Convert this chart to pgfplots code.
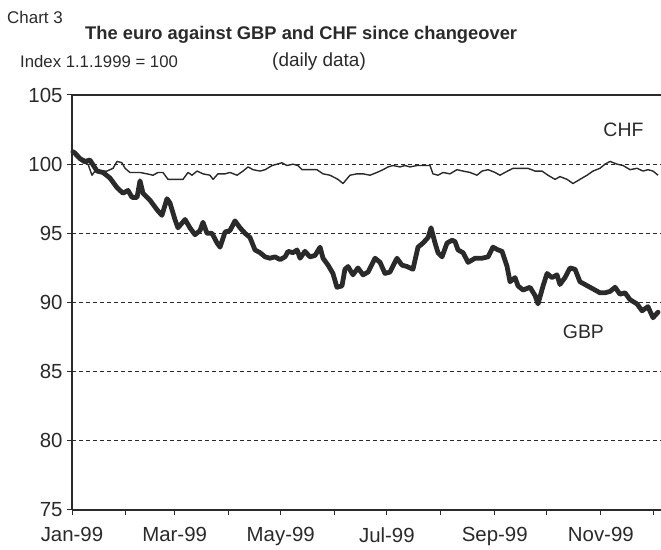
\documentclass[border=0pt]{standalone}
\usepackage{fontspec}
\setmainfont{Liberation Sans}
\usepackage{pgfplots}
\usepackage{pgfplotstable}
\pgfplotsset{compat=1.18}

\definecolor{ink}{HTML}{2A2A2A}

% x = days since 1 Jan 1999, y = index (1.1.1999 = 100)
\pgfplotstableread{
day val
0.5 100.9
1.7 100.8
4.6 100.4
7.5 100.2
10.3 100.3
14.4 99.5
17.8 99.4
21.8 99.0
25.9 98.3
29.3 97.9
32.2 98.1
34.5 97.6
37.4 97.6
39.1 98.8
40.8 97.9
44.8 97.4
48.9 96.7
51.7 96.3
54.6 97.5
56.3 97.2
59.2 96.0
60.9 95.4
65.0 96.0
67.8 95.4
70.7 94.9
73.6 95.2
75.3 95.8
77.6 95.0
80.5 95.0
83.4 94.3
85.1 94.0
88.0 95.1
90.8 95.2
93.7 95.9
96.6 95.4
99.5 95.0
102.3 94.7
105.2 93.8
108.1 93.6
111.0 93.3
113.8 93.2
116.7 93.3
119.6 93.1
122.5 93.3
124.2 93.7
127.0 93.6
129.4 93.8
131.1 93.2
133.9 93.7
136.8 93.3
139.7 93.4
142.6 94.0
144.3 93.2
147.2 92.7
150.0 92.1
152.3 91.1
155.2 91.2
156.9 92.4
158.7 92.6
161.5 92.0
164.4 92.5
167.3 92.0
170.2 92.2
174.2 93.2
177.1 92.9
179.9 92.1
182.8 92.2
186.8 93.2
189.7 92.7
192.6 92.6
196.0 92.4
198.9 94.0
201.8 94.3
204.7 94.7
206.4 95.4
208.7 94.3
210.4 93.6
212.7 93.3
215.6 94.3
218.5 94.5
220.2 94.4
221.9 93.8
224.8 93.6
227.7 92.9
231.7 93.2
235.7 93.2
239.2 93.3
242.0 94.0
244.9 93.8
247.2 93.7
250.1 92.6
251.8 91.5
254.7 91.8
256.4 91.2
259.3 90.9
263.3 91.1
266.2 90.5
267.9 89.9
270.8 91.2
273.1 92.1
275.9 91.8
278.8 92.0
280.5 91.3
283.4 91.8
286.3 92.5
289.2 92.4
292.0 91.5
294.9 91.3
297.8 91.1
300.7 90.9
303.5 90.7
306.4 90.7
309.3 90.8
312.2 91.1
315.0 90.6
317.9 90.7
320.8 90.2
324.8 89.9
327.7 89.4
331.1 89.7
334.0 88.9
336.9 89.3
}\gbp

\pgfplotstableread{
day val
0.5 100.9
1.7 100.6
6.3 100.1
9.2 100.0
11.5 99.2
13.2 99.5
16.1 99.5
20.1 99.5
23.6 99.7
25.9 100.2
28.7 100.1
30.5 99.7
33.3 99.4
39.1 99.4
43.1 99.3
46.6 99.2
49.4 99.4
52.3 99.4
55.2 98.9
60.4 98.9
63.8 98.9
66.7 99.4
69.0 99.2
71.9 99.5
75.3 99.3
79.3 99.2
81.1 98.9
83.9 99.3
88.0 99.3
90.8 99.4
94.9 99.2
98.3 99.5
101.2 99.8
104.1 99.6
108.1 99.5
111.0 99.6
115.0 99.9
117.9 100.0
120.7 100.1
123.6 99.9
127.0 100.0
129.9 99.9
132.2 99.6
136.8 99.6
140.8 99.6
144.3 99.3
148.3 99.2
152.9 98.9
155.8 98.6
159.8 99.2
163.8 99.3
167.3 99.3
171.3 99.2
175.3 99.4
178.8 99.6
181.7 99.8
184.5 99.9
188.6 99.8
191.4 99.9
194.3 99.8
198.3 99.9
201.8 99.9
205.8 99.9
207.5 99.3
210.4 99.2
213.3 99.4
217.3 99.3
221.3 99.6
224.8 99.5
228.8 99.4
232.8 99.2
235.7 99.5
239.2 99.6
243.2 99.4
246.0 99.2
248.9 99.4
253.5 99.7
258.7 99.7
262.1 99.7
266.2 99.5
270.2 99.5
273.6 99.2
277.7 98.9
280.5 99.1
284.6 98.9
288.0 98.6
292.0 98.9
296.1 99.2
299.5 99.5
303.5 99.7
306.4 100.0
309.3 100.2
313.3 100.0
316.8 99.9
320.8 99.6
324.8 99.7
328.3 99.5
331.1 99.6
334.0 99.5
336.9 99.2
}\chf

\begin{document}
\begin{tikzpicture}[x=1bp,y=1bp]
\useasboundingbox (-72,-40) rectangle (589,510);
\begin{axis}[
    at={(0,0)}, anchor=south west,
    scale only axis,
    width=589bp, height=415bp,
    xmin=0, xmax=338.6,
    ymin=75, ymax=105,
    axis x line*=bottom,
    axis y line*=left,
    axis line style={ink, line width=1.3bp, -},
    ytick={75,80,...,105},
    xtick={0,59,120,181,243,304},
    xticklabels={Jan-99,Mar-99,May-99,Jul-99,Sep-99,Nov-99},
    minor xtick={31,90,151,212,273,334},
    tick align=outside,
    major tick length=5bp,
    minor tick length=5bp,
    tick style={ink, line width=1bp},
    ymajorgrids=true,
    major grid style={ink, line width=0.8bp, dash pattern=on 4bp off 3bp},
    /pgf/number format/assume math mode=true,
    yticklabel style={font=\fontsize{20.5}{24}\selectfont, text=ink, xshift=-1bp},
    xticklabel style={font=\fontsize{20.5}{24}\selectfont, text=ink, yshift=-9bp},
    clip=false,
]
\draw[ink, line width=1.3bp] (rel axis cs:0,1) -- (rel axis cs:1,1);
\addplot[ink, line width=1.4bp, line join=round] table[x=day, y=val] {\chf};
\addplot[ink, line width=4.8bp, line join=round, line cap=round] table[x=day, y=val] {\gbp};
\node[text=ink, font=\fontsize{19.5}{22}\selectfont] at (axis cs:317,102.5) {CHF};
\node[text=ink, font=\fontsize{19.5}{22}\selectfont] at (axis cs:294,87.9) {GBP};
\end{axis}
\node[anchor=west, text=ink, font=\fontsize{17}{20}\selectfont, inner sep=0] at (-65,493) {Chart 3};
\node[anchor=west, text=ink, font=\fontsize{18.4}{22}\selectfont\bfseries, inner sep=0] at (13,475) {The euro against GBP and CHF since changeover};
\node[anchor=west, text=ink, font=\fontsize{16.8}{20}\selectfont, inner sep=0] at (-52,448) {Index 1.1.1999 = 100};
\node[anchor=west, text=ink, font=\fontsize{19}{22}\selectfont, inner sep=0] at (200,448) {(daily data)};
\end{tikzpicture}
\end{document}
